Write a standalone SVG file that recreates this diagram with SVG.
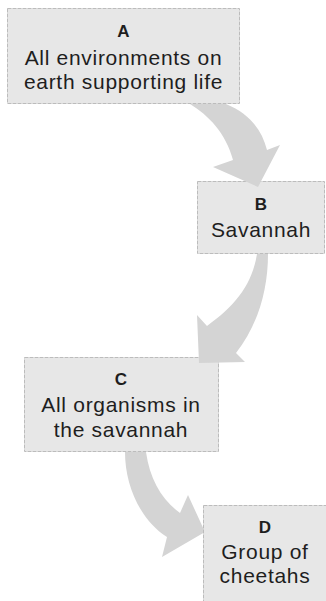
<svg xmlns="http://www.w3.org/2000/svg" width="326" height="601" viewBox="0 0 326 601">
<style>
.box{fill:#e7e7e7;stroke:#bcbcbc;stroke-width:1;stroke-dasharray:4 1}
.lbl{font-family:"Liberation Sans",Arial,sans-serif;font-size:17px;font-weight:bold;fill:#1e1e1e;text-anchor:middle}
.txt{font-family:"Liberation Sans",Arial,sans-serif;font-size:21px;letter-spacing:0.7px;fill:#1e1e1e;text-anchor:middle}
.arr{fill:#d4d4d4;stroke:none}
</style>
<rect width="326" height="601" fill="#ffffff"/>
<g id="nodeA">
<rect class="box" x="7.5" y="8.5" width="232" height="95"/>
<text class="lbl" x="123.5" y="37">A</text>
<text class="txt" x="123.5" y="65">All environments on</text>
<text class="txt" x="123.5" y="89">earth supporting life</text>
</g>
<g id="nodeB">
<rect class="box" x="197.5" y="181.5" width="127" height="72"/>
<text class="lbl" x="261" y="210">B</text>
<text class="txt" x="261" y="237">Savannah</text>
</g>
<g id="nodeC">
<rect class="box" x="24.5" y="357.5" width="194" height="94"/>
<text class="lbl" x="121" y="385">C</text>
<text class="txt" x="121" y="412">All organisms in</text>
<text class="txt" x="121" y="437">the savannah</text>
</g>
<g id="connectors">
<path id="A-B" class="arr" d="M190,104 C208,115 226,133 233,160 L213,167 L258,187 L280,145 L267,150 C262,130 250,114 226,104 Z"/>
<path id="B-C" class="arr" d="M257,254 C252,285 235,306 207,326 L197,315 L199,363 L245,362 L236,353 C258,325 268,290 268,254 Z"/>
<path id="C-D" class="arr" d="M125,452 C125,485 140,520 167,537 L162,557 L205,532 L188,495 L180,513 C162,500 150,480 146,452 Z"/>
</g>
<g id="nodeD">
<rect class="box" x="203.5" y="505.5" width="124" height="100"/>
<text class="lbl" x="265" y="533">D</text>
<text class="txt" x="265" y="559">Group of</text>
<text class="txt" x="265" y="583">cheetahs</text>
</g>
</svg>
